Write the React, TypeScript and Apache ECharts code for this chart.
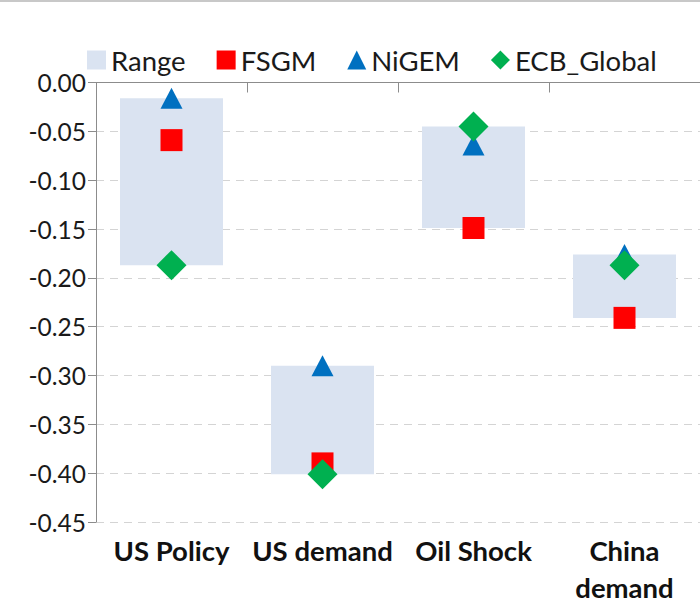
import React, { useEffect, useRef } from "react";
import * as echarts from "echarts";

const categories = ["US Policy", "US demand", "Oil Shock", "China\ndemand"];
const fsgm = [-0.059, -0.39, -0.149, -0.241];
const nigem = [-0.016, -0.29, -0.064, -0.176];
const ecbGlobal = [-0.187, -0.401, -0.045, -0.187];
const legendNames = ["Range", "FSGM", "NiGEM", "ECB_Global"];

const FONT = "Lato, 'Open Sans', sans-serif";

export default function App() {
  const ref = useRef<HTMLDivElement>(null);

  useEffect(() => {
    document.body.style.margin = "0";
    if (!ref.current) return;
    const chart = echarts.init(ref.current, undefined, { renderer: "svg" });

    const rangeTop = categories.map((_, i) => Math.max(fsgm[i], nigem[i], ecbGlobal[i]));
    const rangeBottom = categories.map((_, i) => Math.min(fsgm[i], nigem[i], ecbGlobal[i]));
    const rangeSpan = categories.map((_, i) => +(rangeBottom[i] - rangeTop[i]).toFixed(4));

    chart.setOption({
      animation: false,
      textStyle: { fontFamily: FONT },
      graphic: [
        {
          type: "line",
          shape: { x1: 0, y1: 1, x2: 700, y2: 1 },
          style: { stroke: "#c8c8c8", lineWidth: 2 },
        },
      ],
      legend: {
        data: [
          { name: legendNames[0], icon: "rect" },
          { name: legendNames[1], icon: "rect" },
          { name: legendNames[2], icon: "triangle" },
          { name: legendNames[3], icon: "diamond" },
        ],
        left: 82,
        top: 41,
        itemWidth: 19,
        itemHeight: 19,
        itemGap: 31,
        textStyle: { fontFamily: FONT, fontSize: 27.5, color: "#1a1a1a" },
      },
      grid: { left: 96, right: 0, top: 82.5, bottom: 82 },
      xAxis: [
        {
          type: "category",
          data: categories,
          position: "top",
          boundaryGap: true,
          axisLine: { show: true, lineStyle: { color: "#8c8c8c", width: 1 } },
          axisTick: { show: true, inside: true, length: 10, alignWithLabel: false, lineStyle: { color: "#8c8c8c" } },
          axisLabel: { show: false },
          splitLine: { show: false },
        },
        {
          type: "category",
          data: categories,
          position: "bottom",
          boundaryGap: true,
          axisLine: { show: false },
          axisTick: { show: false },
          axisLabel: {
            show: true,
            margin: 10,
            interval: 0,
            fontFamily: FONT,
            fontSize: 27.5,
            fontWeight: "bold",
            color: "#111",
            lineHeight: 37,
          },
          splitLine: { show: false },
        },
      ],
      yAxis: {
        type: "value",
        min: -0.45,
        max: 0,
        interval: 0.05,
        axisLine: { show: true, lineStyle: { color: "#8c8c8c", width: 1 } },
        axisTick: { show: true, length: 8, lineStyle: { color: "#8c8c8c" } },
        axisLabel: {
          margin: 10,
          fontFamily: FONT,
          fontSize: 24.5,
          color: "#1a1a1a",
          formatter: (v: number) => (Math.abs(v) < 1e-9 ? "0.00" : v.toFixed(2)),
        },
        splitLine: { show: true, lineStyle: { color: "#d4d4d4", type: [8, 6], width: 1 } },
      },
      series: [
        {
          name: "base",
          type: "bar",
          stack: "range",
          xAxisIndex: 0,
          data: rangeTop,
          barWidth: 103,
          itemStyle: { color: "transparent" },
          silent: true,
        },
        {
          name: "Range",
          type: "bar",
          stack: "range",
          xAxisIndex: 0,
          data: rangeSpan,
          barWidth: 103,
          itemStyle: { color: "#dae3f1", opacity: 1 },
        },
        {
          name: "FSGM",
          type: "scatter",
          xAxisIndex: 0,
          data: fsgm,
          symbol: "rect",
          symbolSize: [22, 22],
          itemStyle: { color: "#ff0000", opacity: 1 },
        },
        {
          name: "NiGEM",
          type: "scatter",
          xAxisIndex: 0,
          data: nigem,
          symbol: "triangle",
          symbolSize: [22, 21],
          itemStyle: { color: "#0070c0", opacity: 1 },
        },
        {
          name: "ECB_Global",
          type: "scatter",
          xAxisIndex: 0,
          data: ecbGlobal,
          symbol: "diamond",
          symbolSize: [30, 30],
          itemStyle: { color: "#00b050", opacity: 1 },
        },
      ],
    });

    return () => chart.dispose();
  }, []);

  return (
    <div
      ref={ref}
      style={{ position: "absolute", left: 0, top: 0, width: 700, height: 606, background: "#fff" }}
    />
  );
}
